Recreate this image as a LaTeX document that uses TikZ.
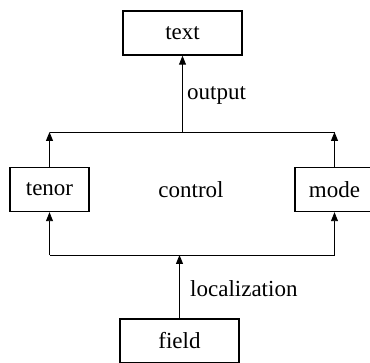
\documentclass[tikz,border=0pt]{standalone}
\usepackage{fontspec}
\setmainfont{Liberation Serif}
\usetikzlibrary{arrows.meta}
\begin{document}
\begin{tikzpicture}[x=1pt,y=-1pt,
  box/.style={draw,line width=1.4pt,minimum width=79pt,minimum height=44pt,inner sep=0pt,
    font=\fontsize{23}{27}\selectfont},
  lbl/.style={font=\fontsize{23}{27}\selectfont,inner sep=0pt},
  wire/.style={line width=0.9pt},
  arr/.style={wire,-{Triangle[length=9pt,width=7pt]}}]
\useasboundingbox (0,0) rectangle (370,363);
\clip (0,0) rectangle (370,363);
% blocks
\node[box,minimum width=119pt] (text) at (182.5,33) {text};
\node[box] (tenor) at (49.5,189.5) {tenor};
\node[box] (mode) at (334.5,189.5) {mode};
\node[box,minimum width=119pt] (field) at (179.5,341) {field};
\node[lbl] (control) at (191,190) {control};
% bus levels
\coordinate (topbus) at (0,132);
\coordinate (botbus) at (0,255);
% upper bus feeding the output block
\draw[wire] (tenor.north |- topbus) -- (mode.north |- topbus);
\draw[arr] (tenor.north) -- (tenor.north |- topbus);
\draw[arr] (mode.north) -- (mode.north |- topbus);
\draw[arr] (text.south |- topbus) -- (text.south);
\node[lbl,anchor=base west] (output) at (187,100) {output};
% lower bus fed by the field block
\draw[wire] (tenor.south |- botbus) -- (mode.south |- botbus);
\draw[arr] (tenor.south |- botbus) -- (tenor.south);
\draw[arr] (mode.south |- botbus) -- (mode.south);
\draw[arr] (field.north) -- (field.north |- botbus);
\node[lbl,anchor=base west] (localization) at (190,297) {localization};
\end{tikzpicture}
\end{document}
